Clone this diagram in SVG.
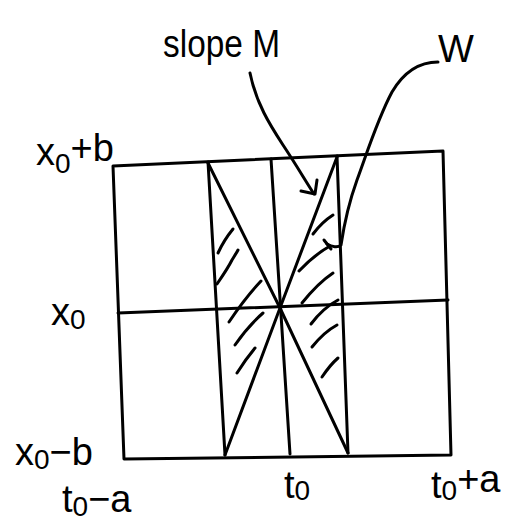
<svg xmlns="http://www.w3.org/2000/svg" width="531" height="523" viewBox="0 0 531 523">
<defs>
<style>
.ln{fill:none;stroke:#000;stroke-width:3;stroke-linecap:round;stroke-linejoin:round}
.h{fill:none;stroke:#000;stroke-width:3;stroke-linecap:round}
.t{font-family:"Liberation Sans",Arial,sans-serif;fill:#000;font-size:38px}
.sub{font-size:28px}
</style>
</defs>
<rect width="531" height="523" fill="#fff"/>
<g id="grid">
<polygon class="ln" points="113,166 443,151 451,455 124,459"/>
<polyline class="ln" points="118,313 448,300"/>
<polyline class="ln" points="208,162 225,455"/>
<polyline class="ln" points="271,159 290,454"/>
<polyline class="ln" points="337,156 348,453"/>
<polyline class="ln" points="208,163 280,308 348,453"/>
<polyline class="ln" points="337,157 280,308 225,455"/>
</g>
<g id="hatching">
<path class="h" d="M218,253 Q224,240 233,229"/>
<path class="h" d="M217,284 Q228,268 232,260 Q237,252 238,250"/>
<path class="h" d="M229,322 Q245,298 261,281"/>
<path class="h" d="M235,345 Q248,326 263,313"/>
<path class="h" d="M237,373 Q245,360 255,348"/>
<path class="h" d="M313,234 Q322,222 333,215"/>
<path class="h" d="M299,271 Q314,255 330,246"/>
<path class="h" d="M302,303 Q318,283 333,273"/>
<path class="h" d="M311,324 Q323,308 338,300"/>
<path class="h" d="M312,347 Q324,332 337,325"/>
<path class="h" d="M322,377 Q330,365 338,358"/>
</g>
<g id="labels">
<text class="t" x="163" y="57" font-size="40" textLength="117" lengthAdjust="spacingAndGlyphs">slope M</text>
<text class="t" x="438" y="62" font-size="46">W</text>
<text class="t" x="36" y="165">x<tspan class="sub" dy="8">0</tspan><tspan dy="-12">+b</tspan></text>
<text class="t" x="51" y="325">x<tspan class="sub" dy="4">0</tspan></text>
<text class="t" x="15" y="465">x<tspan class="sub" dy="4">0</tspan><tspan dy="-4">−b</tspan></text>
<text class="t" x="62" y="512">t<tspan class="sub" dy="4">0</tspan><tspan dy="-4">−a</tspan></text>
<text class="t" x="284" y="498">t<tspan class="sub" dy="2">0</tspan></text>
<text class="t" x="431" y="498">t<tspan class="sub" dy="2">0</tspan><tspan dy="-8">+a</tspan></text>
</g>
<g id="connectors">
<path class="ln" d="M250,73 C256,103 270,125 283,145 C295,163 305,180 314,194"/>
<polyline class="ln" points="317,180 315,194 301,191"/>
<path class="ln" d="M438,62 C420,62 405,70 392,92 C378,118 368,150 357,180 C348,205 344,225 341,245 C338,248 332,247 327,244"/>
<path class="ln" d="M324,240 L331,249"/>
</g>
</svg>
